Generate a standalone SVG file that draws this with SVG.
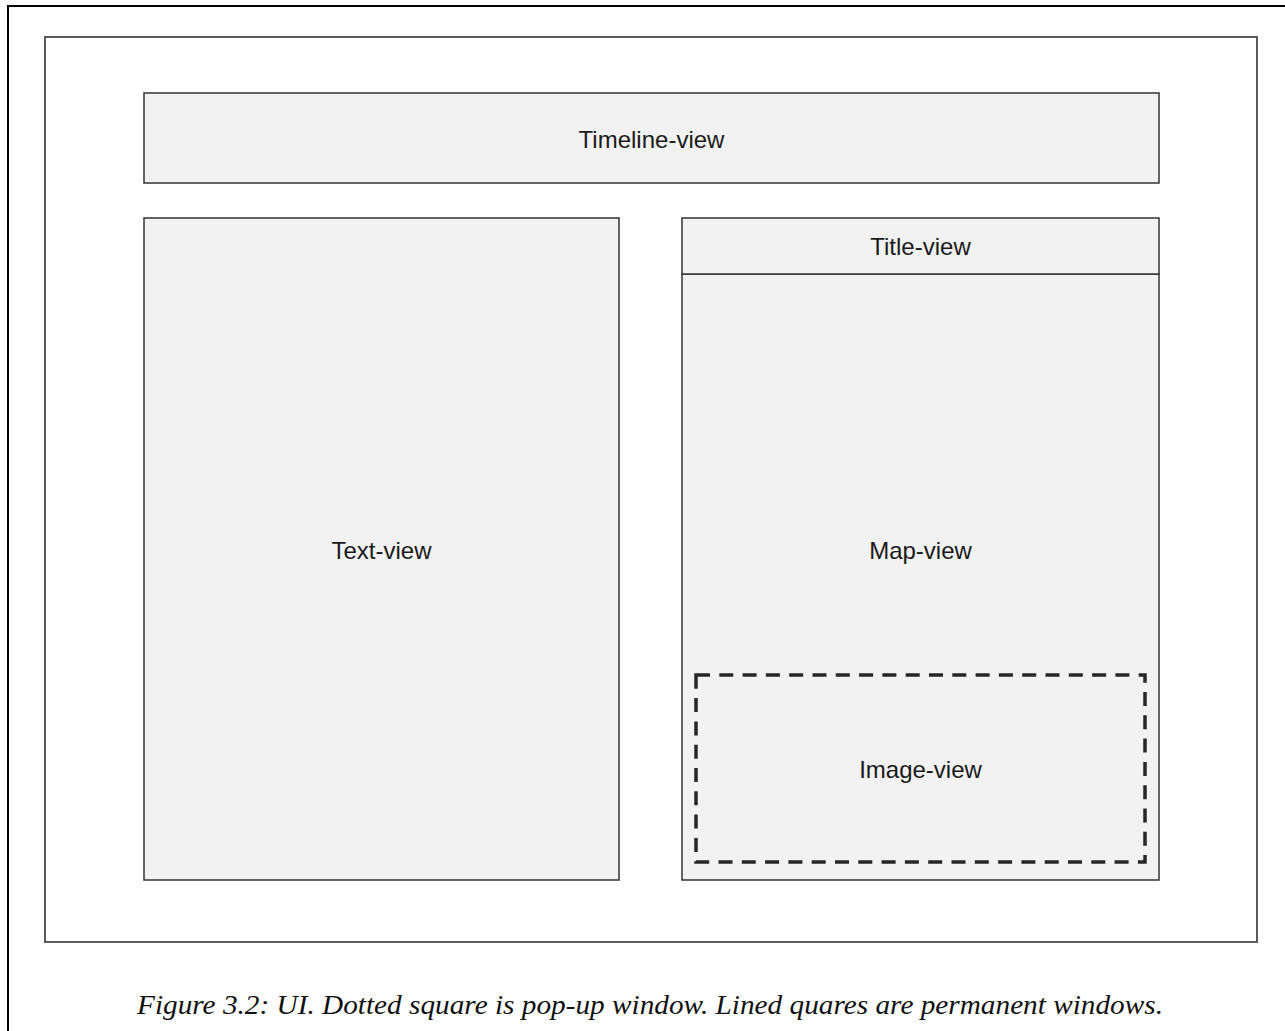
<svg xmlns="http://www.w3.org/2000/svg" width="1285" height="1031" viewBox="0 0 1285 1031">
  <style>
    .page { fill: #ffffff; stroke: #000000; stroke-width: 2; }
    .frame { fill: #ffffff; stroke: #5a5a5a; stroke-width: 2; }
    .view { fill: #f2f2f2; stroke: #333333; stroke-width: 1.5; }
    .popup { fill: none; stroke: #262626; stroke-width: 3.5; stroke-dasharray: 14 9.3; }
    .label { font-family: "Liberation Sans", Arial, sans-serif; font-size: 24px; fill: #1a1a1a; text-anchor: middle; }
    .caption { font-family: "Liberation Serif", "Times New Roman", serif; font-style: italic; font-size: 28px; fill: #111111; }
  </style>

  <rect width="1285" height="1031" fill="#ffffff"/>
  <!-- page border (runs off the right and bottom edges) -->
  <rect class="page" x="8" y="6" width="1300" height="1040"/>

  <!-- application window -->
  <rect class="frame" x="45" y="37" width="1212" height="905"/>

  <g id="timeline-view">
    <rect class="view" x="144" y="93" width="1015" height="90"/>
    <text class="label" x="651.5" y="148">Timeline-view</text>
  </g>

  <g id="text-view">
    <rect class="view" x="144" y="218" width="475" height="662"/>
    <text class="label" x="381.5" y="559">Text-view</text>
  </g>

  <g id="map-view">
    <rect class="view" x="682" y="274" width="477" height="606"/>
    <text class="label" x="920.5" y="559">Map-view</text>
  </g>

  <g id="title-view">
    <rect class="view" x="682" y="218" width="477" height="56"/>
    <text class="label" x="920.5" y="255">Title-view</text>
  </g>

  <g id="image-view">
    <rect class="popup" x="696" y="675" width="449" height="187"/>
    <text class="label" x="920.5" y="778">Image-view</text>
  </g>

  <g id="connectors"/>

  <text class="caption" x="137" y="1014" textLength="1026" lengthAdjust="spacingAndGlyphs">Figure 3.2: UI. Dotted square is pop-up window. Lined quares are permanent windows.</text>
</svg>
